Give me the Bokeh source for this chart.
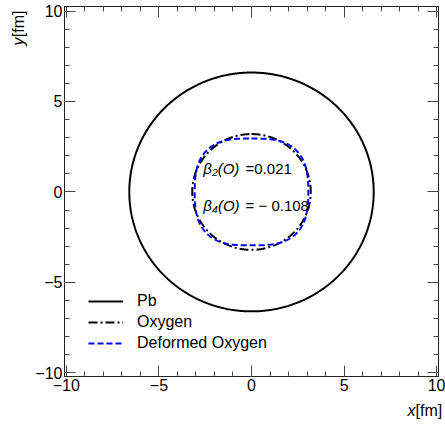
import numpy as np
from bokeh.plotting import figure
from bokeh.models import (Range1d, LinearAxis, SingleIntervalTicker, Legend,
                          LegendItem, Label)
from bokeh.embed import file_html
from bokeh.resources import INLINE

# ---- data ----
pb_radius = 6.6          # fm
oxygen_radius = 3.2      # fm
beta2_O = 0.021
beta4_O = -0.108
series_names = ["Pb", "Oxygen", "Deformed Oxygen"]
tick_labels = {-10: "\u221210", -5: "\u22125", 0: "0", 5: "5", 10: "10"}
beta_texts = [("\u03b2\u2082(O)", "=0.021"), ("\u03b2\u2084(O)", "= \u2212 0.108")]

FONT = "Liberation Sans"

# ---- shapes ----
theta = np.linspace(0, 2 * np.pi, 721)
c = np.cos(theta)
Y20 = np.sqrt(5 / (16 * np.pi)) * (3 * c**2 - 1)
Y40 = 3 / (16 * np.sqrt(np.pi)) * (35 * c**4 - 30 * c**2 + 3)
r_def = oxygen_radius * (1 + beta2_O * Y20 + beta4_O * Y40)

p = figure(width=445, height=426,
           x_range=Range1d(-10.1, 10.1), y_range=Range1d(-10.2, 10.25),
           min_border_left=64, min_border_right=7, min_border_top=6,
           min_border_bottom=50, output_backend="svg", toolbar_location=None)
p.xgrid.visible = False
p.ygrid.visible = False
p.outline_line_color = "#222222"
p.background_fill_color = "white"
p.border_fill_color = "white"

r1 = p.line(pb_radius * np.sin(theta), pb_radius * np.cos(theta),
            line_color="black", line_width=2)
r2 = p.line(oxygen_radius * np.sin(theta), oxygen_radius * np.cos(theta),
            line_color="black", line_width=2, line_dash="9 3 2 3")
r3 = p.line(r_def * np.sin(theta), r_def * np.cos(theta),
            line_color="#0000ff", line_width=2, line_dash="6 3")


def style_axis(ax, labels=True):
    ax.ticker = SingleIntervalTicker(interval=5, num_minor_ticks=5)
    ax.major_tick_in = 11
    ax.major_tick_out = 0
    ax.minor_tick_in = 5
    ax.minor_tick_out = 0
    ax.axis_line_color = "#222222"
    ax.major_tick_line_color = "#444444"
    ax.minor_tick_line_color = "#444444"
    if labels:
        ax.major_label_text_font = FONT
        ax.major_label_text_font_size = "16px"
        ax.major_label_text_color = "black"
        ax.major_label_standoff = 2
        ax.major_label_overrides = tick_labels
    else:
        ax.major_label_text_font_size = "0px"
        ax.major_label_text_color = None
        ax.major_label_standoff = 0


style_axis(p.xaxis[0])
style_axis(p.yaxis[0])
p.yaxis[0].major_label_orientation = "horizontal"
ax_r = LinearAxis()
ax_t = LinearAxis()
style_axis(ax_r, labels=False)
style_axis(ax_t, labels=False)
p.add_layout(ax_r, "right")
p.add_layout(ax_t, "above")

# legend
legend = Legend(items=[LegendItem(label=series_names[0], renderers=[r1]),
                       LegendItem(label=series_names[1], renderers=[r2]),
                       LegendItem(label=series_names[2], renderers=[r3])],
                location=(24, 23), padding=0, margin=0, spacing=1,
                glyph_width=35, glyph_height=20, label_height=20,
                label_standoff=14, label_text_font=FONT,
                label_text_font_size="16px", label_text_color="black",
                border_line_color=None, background_fill_alpha=0)
p.add_layout(legend)

# annotations inside
for (lhs, rhs), yv in zip(beta_texts, [1.3, -0.75]):
    p.add_layout(Label(x=-2.6, y=yv, text=lhs, text_font=FONT,
                       text_font_style="italic", text_font_size="15px",
                       text_color="black",
                       text_baseline="middle", text_align="left"))
    p.add_layout(Label(x=-0.32, y=yv, text=rhs, text_font=FONT,
                       text_font_size="15px", text_color="black",
                       text_baseline="middle", text_align="left"))

# axis titles, placed in side panels (data units, so not clipped);
# small pieces go to the panel where they take the least room
title_kw = dict(text_font=FONT, text_font_size="16px", text_color="black",
                text_baseline="middle", text_align="left")
p.add_layout(Label(x=8.43, y=-12.1, text="x", text_font_style="italic",
                   **title_kw), "left")
p.add_layout(Label(x=8.86, y=-12.1, text="[fm]", **title_kw), "below")
p.add_layout(Label(x=-12.6, y=8.1, text="y", text_font_style="italic",
                   angle=np.pi / 2, **title_kw), "below")
p.add_layout(Label(x=-12.6, y=8.55, text="[fm]", angle=np.pi / 2,
                   **title_kw), "left")

open("out.html", "w").write(file_html(p, INLINE))
